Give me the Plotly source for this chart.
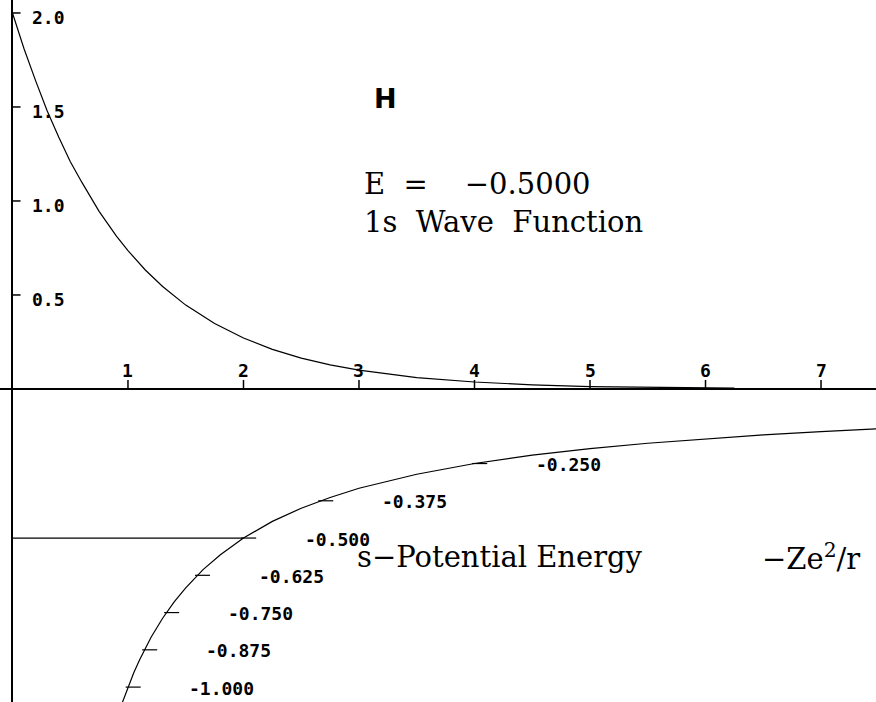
import plotly.graph_objects as go

# ---- data ----
# 1s wave function (upper panel)
wave_r = [0.0, 0.1, 0.2, 0.3, 0.4, 0.5, 0.6, 0.75, 0.9, 1.0, 1.15, 1.3, 1.5, 1.75, 2.0, 2.25,
          2.5, 2.75, 3.0, 3.5, 4.0, 4.5, 5.0, 5.5, 6.0, 6.25]
wave_psi = [2.00, 1.81, 1.64, 1.48, 1.34, 1.21, 1.10, 0.945, 0.813, 0.736, 0.633, 0.545, 0.446,
            0.348, 0.271, 0.211, 0.164, 0.128, 0.100, 0.060, 0.037, 0.022, 0.013, 0.008, 0.005, 0.004]

# s-potential energy (lower panel)
pot_r = [0.95, 1.0, 1.05, 1.1, 1.2, 1.3, 1.4, 1.5, 1.65, 1.8, 2.0, 2.25, 2.5, 2.75, 3.0, 3.5,
         4.0, 4.5, 5.0, 5.5, 6.0, 6.5, 7.0, 7.5]
pot_v = [-1.053, -1.000, -0.952, -0.909, -0.833, -0.769, -0.714, -0.667, -0.606, -0.556, -0.500,
         -0.444, -0.400, -0.364, -0.333, -0.286, -0.250, -0.222, -0.200, -0.182, -0.167, -0.154,
         -0.143, -0.133]

# labelled levels on the potential curve and where they meet it
level_values = [-0.250, -0.375, -0.500, -0.625, -0.750, -0.875, -1.000]
level_r = [4.0, 2.667, 2.0, 1.6, 1.333, 1.143, 1.0]
level_labels = ["-0.250", "-0.375", "-0.500", "-0.625", "-0.750", "-0.875", "-1.000"]

# energy level line
energy = -0.5
energy_r = [0.0, 2.0]

# axis ticks
x_ticks = [1, 2, 3, 4, 5, 6, 7]
x_tick_labels = ["1", "2", "3", "4", "5", "6", "7"]
y_ticks = [0.5, 1.0, 1.5, 2.0]
y_tick_labels = ["0.5", "1.0", "1.5", "2.0"]

# ---- figure ----
fig = go.Figure()

line_style = dict(color="black", width=1.2)

fig.add_trace(go.Scatter(x=wave_r, y=wave_psi, mode="lines", line=line_style,
                         yaxis="y", hoverinfo="skip", showlegend=False))
fig.add_trace(go.Scatter(x=pot_r, y=pot_v, mode="lines", line=line_style,
                         yaxis="y2", hoverinfo="skip", showlegend=False))
fig.add_trace(go.Scatter(x=energy_r, y=[energy, energy], mode="lines", line=line_style,
                         yaxis="y2", hoverinfo="skip", showlegend=False))

# tick marks along the potential curve
tx, ty = [], []
for r, v in zip(level_r, level_values):
    tx += [r - 0.02, r + 0.11, None]
    ty += [v, v, None]
fig.add_trace(go.Scatter(x=tx, y=ty, mode="lines", line=dict(color="black", width=1.2),
                         yaxis="y2", hoverinfo="skip", showlegend=False))

# x-axis ticks (upward from the axis line)
xx, xy = [], []
for t in x_ticks:
    xx += [t, t, None]
    xy += [0, 0.048, None]
fig.add_trace(go.Scatter(x=xx, y=xy, mode="lines", line=dict(color="black", width=1.5),
                         yaxis="y", hoverinfo="skip", showlegend=False))

# y-axis ticks (to the right of the axis line)
yx, yy = [], []
for t in y_ticks:
    yx += [0, 0.07, None]
    yy += [t, t, None]
fig.add_trace(go.Scatter(x=yx, y=yy, mode="lines", line=dict(color="black", width=1.5),
                         yaxis="y", hoverinfo="skip", showlegend=False))

pix_font = dict(family="DejaVu Sans Mono", size=18, color="black")
annotations = []
for t, lab in zip(x_ticks, x_tick_labels):
    annotations.append(dict(x=t, y=0, xref="x", yref="y", text="<b>" + lab + "</b>",
                            showarrow=False, yshift=18, font=pix_font,
                            xanchor="center", yanchor="middle"))
for t, lab in zip(y_ticks, y_tick_labels):
    annotations.append(dict(x=0, y=t, xref="x", yref="y", text="<b>" + lab + "</b>",
                            showarrow=False, xshift=36, yshift=-5, font=pix_font,
                            xanchor="center", yanchor="middle"))
for r, v, lab in zip(level_r, level_values, level_labels):
    annotations.append(dict(x=r, y=v, xref="x", yref="y2", text="<b>" + lab + "</b>",
                            showarrow=False, xshift=94, yshift=-1, font=pix_font,
                            xanchor="center", yanchor="middle"))

serif = dict(family="DejaVu Serif", size=29, color="black")
annotations += [
    dict(x=385 / 876, y=1 - 99 / 702, xref="paper", yref="paper", text="<b>H</b>",
         showarrow=False, font=dict(family="DejaVu Sans", size=27, color="black"),
         xanchor="center", yanchor="middle"),
    dict(x=362 / 876, y=1 - 184 / 702, xref="paper", yref="paper", text="E  =    −0.5000",
         showarrow=False, font=serif, xanchor="left", yanchor="middle"),
    dict(x=362 / 876, y=1 - 222 / 702, xref="paper", yref="paper", text="1s  Wave  Function",
         showarrow=False, font=serif, xanchor="left", yanchor="middle"),
    dict(x=355 / 876, y=1 - 557 / 702, xref="paper", yref="paper",
         text="s−Potential Energy",
         showarrow=False, font=serif, xanchor="left", yanchor="middle"),
    dict(x=862 / 876, y=1 - 557 / 702, xref="paper", yref="paper",
         text="−Ze<sup>2</sup>/r",
         showarrow=False, font=serif, xanchor="right", yanchor="middle"),
]

fig.update_layout(
    width=876, height=702,
    margin=dict(l=0, r=0, t=0, b=0),
    paper_bgcolor="white", plot_bgcolor="white",
    xaxis=dict(range=[-0.108, 7.476], showgrid=False, showticklabels=False, ticks="",
               zeroline=True, zerolinecolor="black", zerolinewidth=1.5, fixedrange=True),
    yaxis=dict(range=[-1.665, 2.069], showgrid=False, showticklabels=False, ticks="",
               zeroline=True, zerolinecolor="black", zerolinewidth=1.5, fixedrange=True),
    yaxis2=dict(range=[-1.050, 1.305], overlaying="y", showgrid=False, showticklabels=False,
                ticks="", zeroline=False, fixedrange=True),
    annotations=annotations,
    showlegend=False,
)

fig.write_html("out.html")
